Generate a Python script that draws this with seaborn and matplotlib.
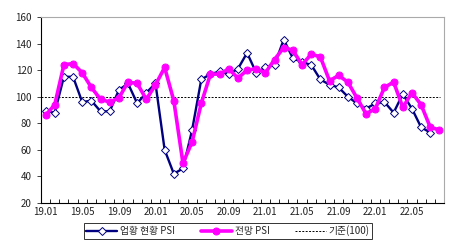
import matplotlib
matplotlib.use("Agg")
import matplotlib.pyplot as plt
import seaborn as sns
import pandas as pd
import numpy as np

# ---- data ----
months = [f"{y}.{m:02d}" for y in (19, 20, 21, 22) for m in range(1, 13)][:44]
current_psi = [89, 88, 115, 115, 96, 97, 89, 89, 105, 110, 95, 103, 110, 60, 42, 46,
               75, 113, 117, 119, 117, 121, 133, 118, 122, 124, 143, 129, 126, 124,
               113, 109, 107, 100, 95, 91, 95, 96, 88, 102, 91, 77, 73]
outlook_psi = [86, 94, 124, 125, 118, 107, 98, 96, 99, 111, 110, 98, 109, 122, 97, 50,
               66, 95, 117, 117, 121, 114, 120, 121, 118, 128, 137, 135, 124, 132,
               130, 112, 116, 111, 99, 87, 91, 107, 111, 92, 103, 94, 77, 75]
baseline = 100
tick_labels = ["19.01", "19.05", "19.09", "20.01", "20.05", "20.09",
               "21.01", "21.05", "21.09", "22.01", "22.05"]
series_names = ["업황 현황 PSI", "전망 PSI", "기준(100)"]
yticks = [20, 40, 60, 80, 100, 120, 140, 160]

sns.set_theme(style="white")
plt.rcParams['font.family'] = ['Noto Sans CJK KR', 'DejaVu Sans']

df_cur = pd.DataFrame({"idx": np.arange(len(current_psi)), "val": current_psi})
df_out = pd.DataFrame({"idx": np.arange(len(outlook_psi)), "val": outlook_psi})

fig = plt.figure(figsize=(4.54, 2.46), dpi=100)
ax = fig.add_axes([41/454, 1-203/246, (444-41)/454, (203-17)/246])

sns.lineplot(data=df_cur, x="idx", y="val", ax=ax, color="#000080", linewidth=1.7,
             marker="D", markersize=3.6, markerfacecolor="white",
             markeredgecolor="#000080", markeredgewidth=0.7, zorder=3,
             label=series_names[0])
sns.lineplot(data=df_out, x="idx", y="val", ax=ax, color="#FF00FF", linewidth=2.6,
             marker="o", markersize=5.0, markerfacecolor="#FF00FF",
             markeredgecolor="#FF00FF", zorder=4, label=series_names[1])
ax.axhline(baseline, xmin=0, xmax=0.99, color="black", linestyle=(0, (2, 1.5)),
           linewidth=0.7, zorder=2, label=series_names[2])

n = len(months)
ax.set_xlim(-0.5, n - 0.5)
ax.set_ylim(20, 160)
ax.set_yticks(yticks)
ax.set_yticklabels([str(v) for v in yticks])
label_pos = [months.index(t) for t in tick_labels]
ax.set_xticks(label_pos)
ax.set_xticklabels(tick_labels)
ax.set_xticks(np.arange(-0.5, n, 1), minor=True)
ax.tick_params(axis="x", which="major", length=0, pad=3, labelsize=7, colors="#222222")
ax.tick_params(axis="x", which="minor", direction="in", length=3, width=0.6,
               color="black", bottom=True)
ax.tick_params(axis="y", which="major", direction="out", length=3, width=0.6,
               labelsize=7, colors="#222222", left=True)
ax.set_xlabel("")
ax.set_ylabel("")

for side in ("left", "bottom"):
    ax.spines[side].set_color("black")
    ax.spines[side].set_linewidth(0.8)
for side in ("top", "right"):
    ax.spines[side].set_color("#aaaaaa")
    ax.spines[side].set_linewidth(0.8)

leg = ax.legend(loc="upper center", bbox_to_anchor=(228/454, 1-223/246),
                bbox_transform=fig.transFigure, ncol=3, frameon=True,
                fancybox=False, edgecolor="black", fontsize=7,
                handlelength=3.2, handletextpad=0.3, columnspacing=2.6,
                borderpad=0.25, borderaxespad=0)
leg.get_frame().set_linewidth(0.7)

fig.savefig("out.png", dpi=100)
